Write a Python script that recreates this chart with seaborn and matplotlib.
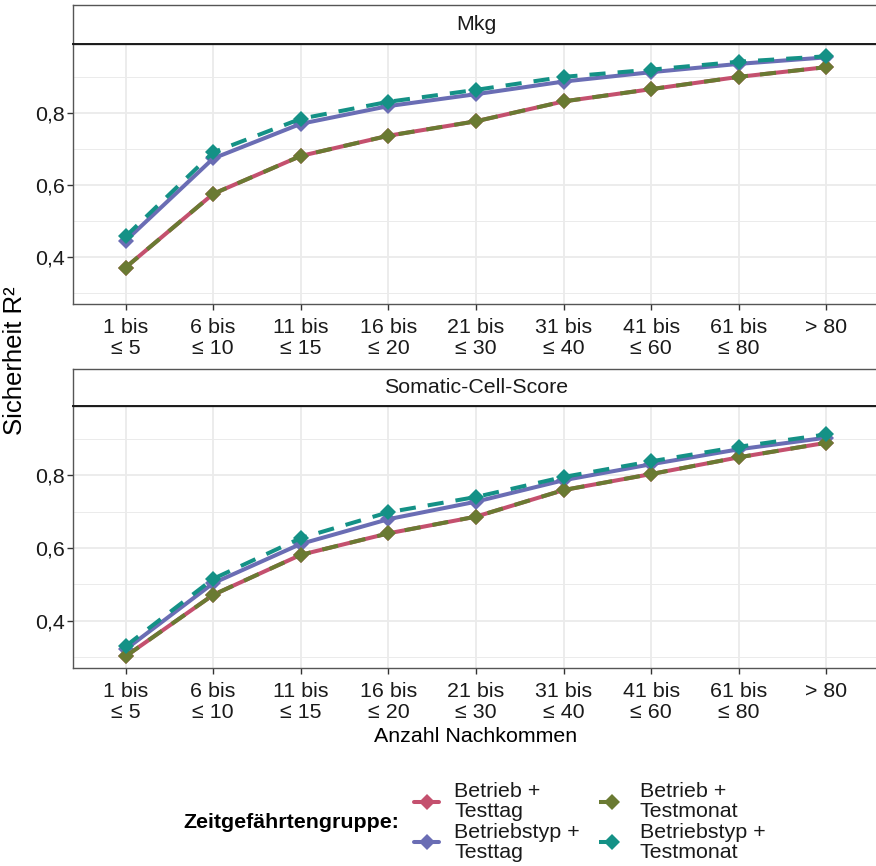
import numpy as np
import pandas as pd
import seaborn as sns
import matplotlib
matplotlib.use("Agg")
import matplotlib.pyplot as plt
from matplotlib.ticker import FixedLocator, FuncFormatter

# Offspring classes (x axis)
klassen = ["1 bis\n≤ 5", "6 bis\n≤ 10", "11 bis\n≤ 15", "16 bis\n≤ 20", "21 bis\n≤ 30",
           "31 bis\n≤ 40", "41 bis\n≤ 60", "61 bis\n≤ 80", "> 80"]

gruppen = ["Betrieb +\nTesttag", "Betriebstyp +\nTesttag",
           "Betrieb +\nTestmonat", "Betriebstyp +\nTestmonat"]

# Reliability R² per contemporary group – milk yield (Mkg)
mkg_betrieb_testtag = [0.371, 0.575, 0.680, 0.736, 0.776, 0.831, 0.865, 0.899, 0.926]
mkg_typ_testtag = [0.445, 0.673, 0.769, 0.818, 0.851, 0.886, 0.912, 0.935, 0.953]
mkg_betrieb_testmonat = [0.371, 0.575, 0.680, 0.736, 0.776, 0.831, 0.865, 0.899, 0.926]
mkg_typ_testmonat = [0.457, 0.690, 0.783, 0.830, 0.863, 0.899, 0.919, 0.941, 0.956]

# Reliability R² per contemporary group – somatic cell score
scs_betrieb_testtag = [0.302, 0.471, 0.581, 0.640, 0.686, 0.759, 0.803, 0.849, 0.889]
scs_typ_testtag = [0.321, 0.503, 0.611, 0.679, 0.727, 0.786, 0.830, 0.871, 0.903]
scs_betrieb_testmonat = [0.302, 0.471, 0.581, 0.640, 0.686, 0.759, 0.803, 0.849, 0.889]
scs_typ_testmonat = [0.330, 0.515, 0.627, 0.698, 0.740, 0.795, 0.838, 0.878, 0.912]

merkmale = ["Mkg", "Somatic-Cell-Score"]
werte = {
    "Mkg": [mkg_betrieb_testtag, mkg_typ_testtag, mkg_betrieb_testmonat, mkg_typ_testmonat],
    "Somatic-Cell-Score": [scs_betrieb_testtag, scs_typ_testtag, scs_betrieb_testmonat, scs_typ_testmonat],
}

y_ticks = [0.4, 0.6, 0.8]
y_minor = [0.3, 0.5, 0.7, 0.9]

rows = []
for m in merkmale:
    for g, serie in zip(gruppen, werte[m]):
        for i, (k, v) in enumerate(zip(klassen, serie)):
            rows.append({"Merkmal": m, "Gruppe": g, "pos": i, "Klasse": k, "R2": v})
df = pd.DataFrame(rows)

farben = {gruppen[0]: "#C4506E", gruppen[1]: "#6A6DB4",
          gruppen[2]: "#6A7A32", gruppen[3]: "#149186"}
striche = {gruppen[0]: "", gruppen[1]: "", gruppen[2]: (4, 3), gruppen[3]: (4, 3)}
marker = {g: "D" for g in gruppen}

sns.set_theme(style="white")
plt.rcParams["font.family"] = ["Liberation Sans", "DejaVu Sans"]

W, H = 876, 866
fig = plt.figure(figsize=(W / 100, H / 100), dpi=100)


def fx(px):
    return px / W


def fy(px):
    return 1 - px / H


FS = 15.4
x_left, x_right = 73, 879
panels = [(5, 44, 304), (369, 406, 668)]
grid_col = "#EBEBEB"
handles = labels = None

for m, (s_top, p_top, p_bot) in zip(merkmale, panels):
    ax = fig.add_axes([fx(x_left), fy(p_bot), fx(x_right - x_left), (p_bot - p_top) / H])
    sub = df[df["Merkmal"] == m]
    sns.lineplot(data=sub, x="pos", y="R2", hue="Gruppe", style="Gruppe",
                 hue_order=gruppen, style_order=gruppen, palette=farben,
                 dashes=striche, markers=marker, markersize=8, markeredgewidth=0,
                 linewidth=2.9, ax=ax, legend=True)
    handles, labels = ax.get_legend_handles_labels()
    ax.get_legend().remove()

    ax.set_xlim(-0.6, len(klassen) - 1 + 0.6)
    ax.set_ylim(0.27, 0.99)
    ax.set_xticks(range(len(klassen)))
    ax.set_xticklabels(klassen)
    ax.yaxis.set_major_locator(FixedLocator(y_ticks))
    ax.yaxis.set_minor_locator(FixedLocator(y_minor))
    ax.yaxis.set_major_formatter(FuncFormatter(lambda v, p: f"{v:.1f}".replace(".", ",")))
    ax.grid(True, which="major", color=grid_col, linewidth=1.3)
    ax.grid(True, which="minor", axis="y", color=grid_col, linewidth=0.7)
    ax.set_axisbelow(True)
    ax.tick_params(axis="both", which="major", length=4, width=1, color="#333333",
                   labelsize=FS, labelcolor="#1A1A1A", pad=2, bottom=True, left=True)
    ax.tick_params(axis="x", which="major", pad=6)
    ax.tick_params(axis="y", which="minor", length=0)
    ax.set_xlabel("")
    ax.set_ylabel("")
    for sp in ax.spines.values():
        sp.set_color("#555555")
        sp.set_linewidth(1.0)
    for lbl in ax.get_xticklabels():
        lbl.set_linespacing(1.12)

    # facet strip
    sax = fig.add_axes([fx(x_left), fy(p_top), fx(x_right - x_left), (p_top - s_top) / H])
    sax.set_xticks([])
    sax.set_yticks([])
    sax.set_facecolor("white")
    for sp in sax.spines.values():
        sp.set_color("#555555")
        sp.set_linewidth(1.0)
    sax.spines["bottom"].set_color("#1A1A1A")
    sax.spines["bottom"].set_linewidth(1.4)
    sax.text(0.5, 0.5, m, transform=sax.transAxes, ha="center", va="center",
             fontsize=FS, color="#1A1A1A")

fig.text(fx(15), fy(361), "Sicherheit R²", rotation=90, ha="center", va="center",
         fontsize=18.5, color="#000000")
fig.text(fx(476), fy(736), "Anzahl Nachkommen", ha="center", va="center",
         fontsize=FS, color="#000000")

fig.text(fx(183), fy(823), "Zeitgefährtengruppe:", ha="left", va="center",
         fontsize=FS, fontweight="bold", color="#000000")
leg = fig.legend(handles, labels, ncol=2, loc="center left",
                 bbox_to_anchor=(fx(403), fy(822)), frameon=False, fontsize=FS,
                 handlelength=1.2, handletextpad=0.7, columnspacing=0.9,
                 labelspacing=0.05, borderpad=0)
for t in leg.get_texts():
    t.set_linespacing(1.12)
    t.set_color("#1A1A1A")

fig.savefig("out.png", dpi=100)
